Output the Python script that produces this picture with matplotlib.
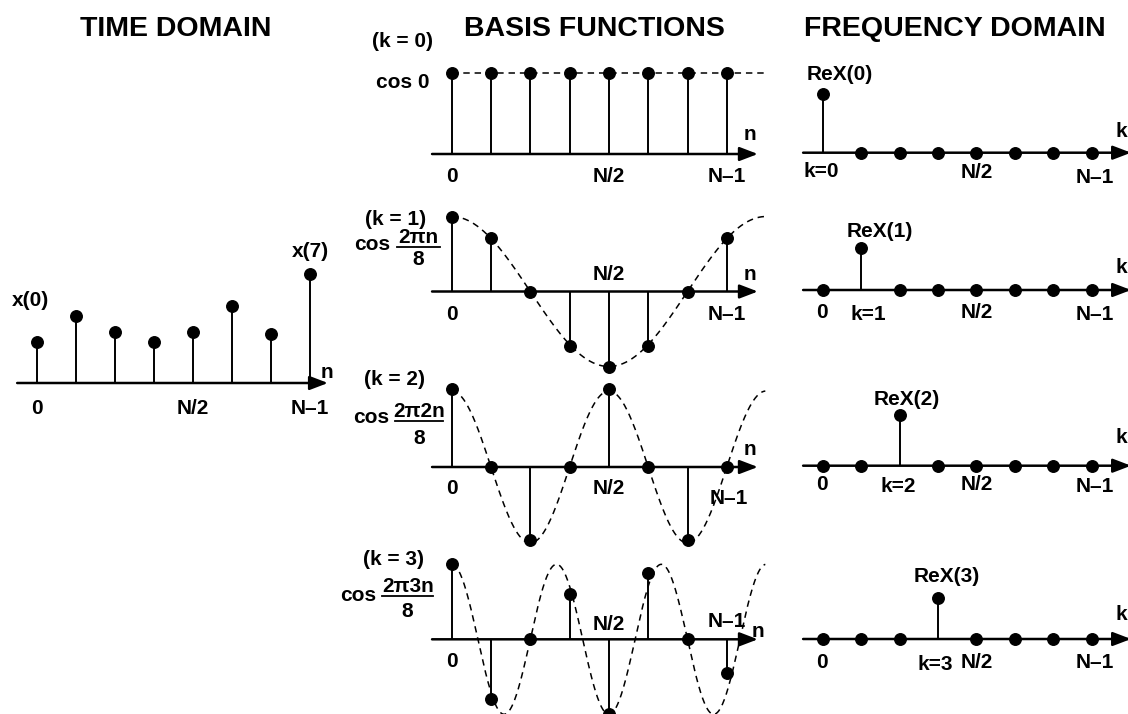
import numpy as np
import matplotlib
matplotlib.use("Agg")
import matplotlib.pyplot as plt

plt.rcParams['font.family'] = ['Liberation Sans', 'DejaVu Sans']

# ---------------- data ----------------
n_index = np.arange(8)
tick_labels = ["0", "N/2", "N\u20131"]
tick_positions = [0, 4, 7]

time_values = [0.41, 0.67, 0.51, 0.41, 0.51, 0.77, 0.49, 1.09]

basis_k0 = [1.0, 1.0, 1.0, 1.0, 1.0, 1.0, 1.0, 1.0]
basis_k1 = [1.0, 0.71, 0.0, -0.72, -1.0, -0.72, 0.0, 0.71]
basis_k2 = [1.02, 0.0, -0.96, 0.0, 1.02, 0.0, -0.96, 0.0]
basis_k3 = [1.0, -0.8, 0.0, 0.6, -1.0, 0.88, 0.0, -0.45]

freq_k0 = [0.59, 0, 0, 0, 0, 0, 0, 0]
freq_k1 = [0, 0.42, 0, 0, 0, 0, 0, 0]
freq_k2 = [0, 0, 0.51, 0, 0, 0, 0, 0]
freq_k3 = [0, 0, 0, 0.41, 0, 0, 0, 0]

titles = ["TIME DOMAIN", "BASIS FUNCTIONS", "FREQUENCY DOMAIN"]

# ---------------- layout ----------------
W, H = 1128, 714
fig = plt.figure(figsize=(W / 100, H / 100), dpi=100)
LS = 15
TS = 20.5


def panel(n0, dn, y0, amp):
    """Axes spanning the figure, with data units: n index / amplitude."""
    ax = fig.add_axes([0, 0, 1, 1])
    ax.set_xlim((0 - n0) / dn, (W - n0) / dn)
    ax.set_ylim((y0 - H) / amp, (y0 - 0) / amp)
    ax.axis('off')
    return ax


def axis_arrow(ax, x0, x1):
    ax.annotate('', xy=(x1, 0), xytext=(x0, 0),
                arrowprops=dict(arrowstyle='-|>,head_length=1.1,head_width=0.42',
                                mutation_scale=10, lw=1.8, color='black',
                                shrinkA=0, shrinkB=0),
                annotation_clip=False)


def lab(ax, x, y, s, size=LS, ha='center'):
    ax.text(x, y, s, ha=ha, va='baseline', fontsize=size,
            fontweight='bold', clip_on=False)


def stems(ax, vals):
    v = np.asarray(vals, dtype=float)
    ax.vlines(n_index, 0, v, colors='black', lw=1.4, clip_on=False)
    ax.plot(n_index, v, 'o', color='black', ms=8.3, clip_on=False, zorder=5)


def fraction(ax, xc_cos, yb_cos, xc_frac, yb_num, y_line, x_line0, x_line1, yb_den, num):
    lab(ax, xc_cos, yb_cos, "cos")
    lab(ax, xc_frac, yb_num, num)
    ax.plot([x_line0, x_line1], [y_line, y_line], color='black', lw=1.3,
            clip_on=False)
    lab(ax, xc_frac, yb_den, "8")


for t_, xc in zip(titles, [176, 594, 955]):
    fig.text(xc / W, 1 - 36 / H, t_, ha='center', va='baseline',
             fontsize=TS, fontweight='bold')

# ---------------- time domain ----------------
ax = panel(36.7, 39.04, 383, 100)
axis_arrow(ax, -0.5, 7.46)
stems(ax, time_values)
for p, s in zip(tick_positions, tick_labels):
    lab(ax, p, -0.31, s)
lab(ax, 7.44, 0.05, "n")
lab(ax, -0.17, 0.77, "x(0)")
lab(ax, 7.0, 1.26, "x(7)")

# ---------------- basis functions ----------------
t = np.linspace(0, 7.98, 500)
DASH = (0, (4.2, 3.2))

# k = 0
ax = panel(451.7, 39.3, 154, 81)
axis_arrow(ax, -0.5, 7.79)
ax.plot(t, np.cos(2 * np.pi * 0 * t / 8), color='black', lw=1.1, ls=DASH, clip_on=False)
stems(ax, basis_k0)
for p, s in zip(tick_positions, tick_labels):
    lab(ax, p, -0.35, s)
lab(ax, 7.59, 0.17, "n")
lab(ax, -1.24, 1.32, "(k = 0)")
lab(ax, -1.24, 0.815, "cos 0")

# k = 1
ax = panel(451.7, 39.3, 291.5, 75)
axis_arrow(ax, -0.5, 7.79)
ax.plot(t, np.cos(2 * np.pi * 1 * t / 8), color='black', lw=1.1, ls=DASH, clip_on=False)
stems(ax, basis_k1)
lab(ax, 0, -0.38, "0")
lab(ax, 4, 0.15, "N/2")
lab(ax, 7, -0.38, "N\u20131")
lab(ax, 7.59, 0.15, "n")
lab(ax, -1.44, 0.887, "(k = 1)")
fraction(ax, -2.03, 0.553, -0.86, 0.647, 0.60, -1.39, -0.30, 0.353, "2\u03c0n")

# k = 2
ax = panel(451.7, 39.3, 467, 76)
axis_arrow(ax, -0.5, 7.79)
ax.plot(t, np.cos(2 * np.pi * 2 * t / 8), color='black', lw=1.1, ls=DASH, clip_on=False)
stems(ax, basis_k2)
lab(ax, 0, -0.355, "0")
lab(ax, 4, -0.355, "N/2")
lab(ax, 7.05, -0.49, "N\u20131")
lab(ax, 7.59, 0.16, "n")
lab(ax, -1.46, 1.085, "(k = 2)")
fraction(ax, -2.05, 0.579, -0.83, 0.658, 0.605, -1.44, -0.22, 0.303, "2\u03c02n")

# k = 3
ax = panel(451.7, 39.3, 639.3, 75)
axis_arrow(ax, -0.5, 7.79)
ax.plot(t, np.cos(2 * np.pi * 3 * t / 8), color='black', lw=1.1, ls=DASH, clip_on=False)
stems(ax, basis_k3)
lab(ax, 0, -0.37, "0")
lab(ax, 4, 0.124, "N/2")
lab(ax, 7.01, 0.164, "N\u20131")
lab(ax, 7.79, 0.03, "n")
lab(ax, -1.47, 0.997, "(k = 3)")
fraction(ax, -2.38, 0.511, -1.12, 0.63, 0.577, -1.78, -0.48, 0.297, "2\u03c03n")

# ---------------- frequency domain ----------------
freq_rows = [
    (152.7, freq_k0, 0.45, 0.73, "ReX(0)", -0.05, -0.24, "k=0", -0.25, -0.30, 0.16, False),
    (290.0, freq_k1, 1.5, 0.53, "ReX(1)", 1.18, -0.30, "k=1", -0.28, -0.30, 0.17, True),
    (465.7, freq_k2, 2.2, 0.607, "ReX(2)", 1.96, -0.26, "k=2", -0.24, -0.26, 0.23, True),
    (639.0, freq_k3, 3.24, 0.57, "ReX(3)", 2.93, -0.31, "k=3", -0.29, -0.29, 0.19, True),
]
for (y0, vals, rx, ry, rlab, kx, ky, klab, ny, n1y, ky2, zero_lab) in freq_rows:
    ax = panel(822.7, 38.4, y0, 100)
    axis_arrow(ax, -0.51, 8.03)
    v = np.asarray(vals, dtype=float)
    ax.vlines(n_index, 0, v, colors='black', lw=1.4, clip_on=False)
    if zero_lab:
        ax.plot(n_index, v, 'o', color='black', ms=8.3, clip_on=False, zorder=5)
    else:
        keep = n_index != 0
        ax.plot(n_index[v != 0], v[v != 0], 'o', color='black', ms=8.3, clip_on=False, zorder=5)
        ax.plot(n_index[keep & (v == 0)], v[keep & (v == 0)], 'o', color='black',
                ms=8.3, clip_on=False, zorder=5)
    lab(ax, rx, ry, rlab)
    lab(ax, kx, ky, klab)
    if zero_lab:
        lab(ax, -0.03, ky + 0.02, "0")
    lab(ax, 4.02, ny, "N/2")
    lab(ax, 7.08, n1y, "N\u20131")
    lab(ax, 7.92, ky2, "k", ha='right')

fig.savefig("out.png", dpi=100)
